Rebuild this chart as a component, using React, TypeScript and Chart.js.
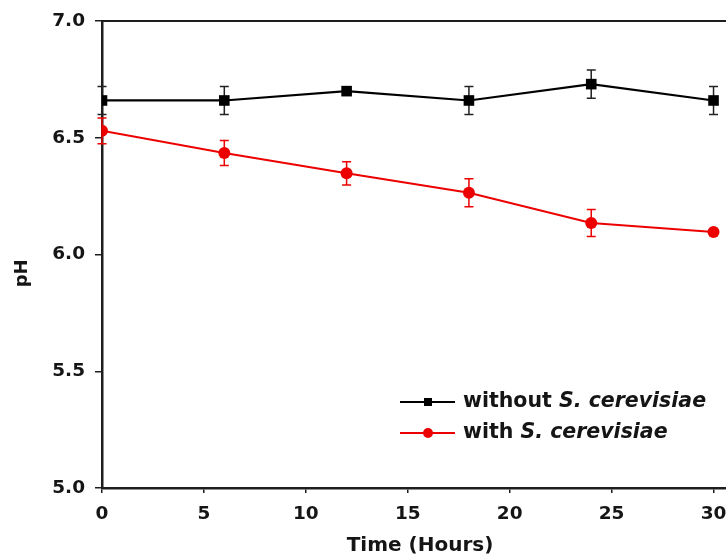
import React, { useEffect, useRef } from "react";
import { Chart, registerables } from "chart.js";

Chart.register(...registerables);

const hours = [0, 6, 12, 18, 24, 30];
const withoutMean = [6.66, 6.66, 6.7, 6.66, 6.73, 6.66];
const withoutErr = [0.06, 0.06, 0.01, 0.06, 0.06, 0.06];
const withMean = [6.53, 6.435, 6.348, 6.265, 6.135, 6.097];
const withErr = [0.055, 0.054, 0.05, 0.06, 0.058, 0.01];
const seriesNames = ["without S. cerevisiae", "with S. cerevisiae"];
const italicTerm = "S. cerevisiae";
const xTitle = "Time (Hours)";
const yTitle = "pH";

const FONT = '"DejaVu Sans", "Liberation Sans", Arial, sans-serif';
const AXIS = "#1e1e1e";
const RED = "rgb(236,0,0)";

const errorBarsPlugin = {
  id: "errorBars",
  beforeDatasetsDraw(chart: any, _args: any, opts: any) {
    const ctx = chart.ctx;
    const xs = chart.scales.x;
    const ys = chart.scales.y;
    chart.data.datasets.forEach((ds: any, i: number) => {
      const errs = opts.errors[i];
      if (!errs) return;
      ctx.save();
      ctx.strokeStyle = opts.colors[i];
      ctx.lineWidth = 1.5;
      ds.data.forEach((p: any, j: number) => {
        const e = errs[j];
        const x = xs.getPixelForValue(p.x);
        const y1 = ys.getPixelForValue(p.y + e);
        const y2 = ys.getPixelForValue(p.y - e);
        ctx.beginPath();
        ctx.moveTo(x, y1);
        ctx.lineTo(x, y2);
        ctx.moveTo(x - 4.5, y1);
        ctx.lineTo(x + 4.5, y1);
        ctx.moveTo(x - 4.5, y2);
        ctx.lineTo(x + 4.5, y2);
        ctx.stroke();
      });
      ctx.restore();
    });
  },
};

const frameLegendPlugin = {
  id: "frameLegend",
  afterDraw(chart: any) {
    const ctx = chart.ctx;
    const { left, right, top, bottom } = chart.chartArea;
    ctx.save();
    // top frame line
    ctx.strokeStyle = AXIS;
    ctx.lineWidth = 2;
    ctx.beginPath();
    ctx.moveTo(left, top);
    ctx.lineTo(right, top);
    ctx.stroke();

    // legend
    const rows = [bottom - 86, bottom - 55];
    chart.data.datasets.forEach((ds: any, i: number) => {
      const y = rows[i];
      const x0 = left + 298;
      const x1 = left + 353;
      const xm = left + 326;
      ctx.strokeStyle = ds.borderColor;
      ctx.lineWidth = 2;
      ctx.beginPath();
      ctx.moveTo(x0, y);
      ctx.lineTo(x1, y);
      ctx.stroke();
      ctx.fillStyle = ds.pointBackgroundColor;
      if (ds.pointStyle === "rect") {
        ctx.fillRect(xm - 4, y - 4, 8, 8);
      } else {
        ctx.beginPath();
        ctx.arc(xm, y, 5, 0, Math.PI * 2);
        ctx.fill();
      }
      const label: string = ds.label;
      const idx = label.indexOf(italicTerm);
      const pre = idx >= 0 ? label.slice(0, idx) : label;
      const post = idx >= 0 ? label.slice(idx) : "";
      ctx.fillStyle = "#151515";
      ctx.textBaseline = "middle";
      ctx.textAlign = "left";
      ctx.font = `bold 20.5px ${FONT}`;
      const tx = left + 361;
      ctx.fillText(pre, tx, y);
      const w = ctx.measureText(pre).width;
      ctx.font = `italic bold 20.5px ${FONT}`;
      ctx.fillText(post, tx + w, y);
    });
    ctx.restore();
  },
};

export default function App() {
  const ref = useRef<HTMLCanvasElement | null>(null);

  useEffect(() => {
    if (!ref.current) return;
    const chart = new Chart(ref.current, {
      type: "line",
      data: {
        datasets: [
          {
            label: seriesNames[0],
            data: hours.map((h, i) => ({ x: h, y: withoutMean[i] })),
            borderColor: "#000",
            backgroundColor: "#000",
            pointBackgroundColor: "#000",
            pointBorderColor: "#000",
            pointStyle: "rect",
            pointRadius: 7.5,
            pointBorderWidth: 0,
            borderWidth: 2.2,
            tension: 0,
          },
          {
            label: seriesNames[1],
            data: hours.map((h, i) => ({ x: h, y: withMean[i] })),
            borderColor: RED,
            backgroundColor: RED,
            pointBackgroundColor: RED,
            pointBorderColor: RED,
            pointStyle: "circle",
            pointRadius: 6,
            pointBorderWidth: 0,
            borderWidth: 2,
            tension: 0,
          },
        ],
      },
      options: {
        responsive: false,
        animation: false,
        devicePixelRatio: 1,
        layout: { padding: { top: 21, right: 22, left: 0, bottom: 0 } },
        plugins: {
          legend: { display: false },
          tooltip: { enabled: false },
          errorBars: { errors: [withoutErr, withErr], colors: ["#222", RED] },
        } as any,
        scales: {
          x: {
            type: "linear",
            min: 0,
            max: 31.2,
            afterFit: (s: any) => {
              s.height = 70;
            },
            border: { display: true, color: AXIS, width: 2.5 },
            grid: {
              display: true,
              drawOnChartArea: false,
              drawTicks: true,
              tickLength: 5,
              color: AXIS,
              lineWidth: 1.5,
            },
            ticks: {
              stepSize: 5,
              includeBounds: false,
              color: "#151515",
              font: { family: FONT, size: 18.5, weight: "bold" },
              padding: 10,
              maxRotation: 0,
            },
            title: {
              display: true,
              text: xTitle,
              color: "#151515",
              font: { family: FONT, size: 20, weight: "bold" },
              padding: { top: 0, bottom: 0 },
            },
          },
          y: {
            type: "linear",
            min: 5,
            max: 7,
            afterFit: (s: any) => {
              s.width = 102;
            },
            border: { display: true, color: AXIS, width: 2.5 },
            grid: {
              display: true,
              drawOnChartArea: false,
              drawTicks: true,
              tickLength: 7,
              color: AXIS,
              lineWidth: 1.5,
            },
            ticks: {
              stepSize: 0.5,
              color: "#151515",
              font: { family: FONT, size: 18.5, weight: "bold" },
              padding: 10,
              callback: (v: any) => Number(v).toFixed(1),
            },
            title: {
              display: true,
              text: yTitle + "      ",
              color: "#151515",
              font: { family: FONT, size: 18, weight: "bold" },
              padding: { top: 12, bottom: 0 },
            },
          },
        },
      },
      plugins: [errorBarsPlugin, frameLegendPlugin],
    });
    return () => chart.destroy();
  }, []);

  return (
    <div
      style={{
        position: "absolute",
        left: 0,
        top: 0,
        width: 726,
        height: 558,
        overflow: "hidden",
        background: "#fff",
      }}
    >
      <canvas
        ref={ref}
        width={760}
        height={558}
        style={{ display: "block", width: 760, height: 558 }}
      />
    </div>
  );
}
